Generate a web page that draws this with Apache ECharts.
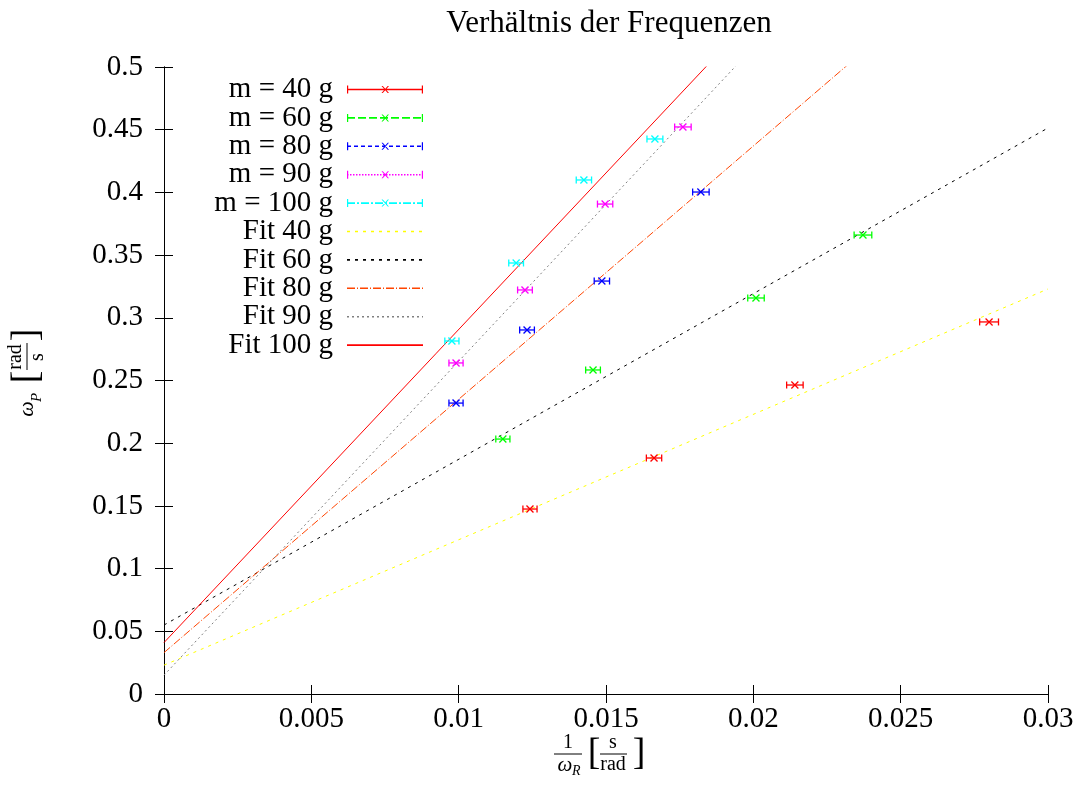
<!DOCTYPE html>
<html lang="de">
<head>
    <meta charset="UTF-8">
    <title>Verhältnis der Frequenzen</title>
    <script src="https://cdn.jsdelivr.net/npm/echarts@6/dist/echarts.min.js"></script>
    <style>
        html,body{ margin:0; padding:0; background:#fff; }
        #main{ width:1084px; height:787px; }
    </style>
</head>
<body>
<div id="main"></div>
<script>
    // Messwerte: 1/omega_R, omega_P, Fehler in x
    var x40 = [0.01242, 0.01663, 0.02141, 0.0280];
    var y40 = [0.1475, 0.1882, 0.2464, 0.2967];
    var e40 = [0.00024, 0.00026, 0.00028, 0.00032];

    var x60 = [0.0115, 0.01456, 0.02009, 0.02372];
    var y60 = [0.2033, 0.2584, 0.3158, 0.366];
    var e60 = [0.00024, 0.00025, 0.00028, 0.0003];

    var x80 = [0.00991, 0.01232, 0.01486, 0.01822];
    var y80 = [0.232, 0.2903, 0.3293, 0.4003];
    var e80 = [0.00024, 0.00025, 0.00026, 0.00028];

    var x90 = [0.00991, 0.01225, 0.01497, 0.01761];
    var y90 = [0.264, 0.3222, 0.3907, 0.4522];
    var e90 = [0.00024, 0.00025, 0.00026, 0.00028];

    var x100 = [0.00977, 0.01195, 0.01425, 0.01666];
    var y100 = [0.2815, 0.3437, 0.4099, 0.4426];
    var e100 = [0.00024, 0.00025, 0.00026, 0.00027];

    // Fitgeraden: Wert bei x = 0 und bei x = 0.03
    var fitX = [0, 0.03];
    var fit40 = [0.023, 0.323];
    var fit60 = [0.055, 0.4514];
    var fit80 = [0.033, 0.639];
    var fit90 = [0.015, 0.766];
    var fit100 = [0.041, 0.79];

    var xTicks = [0, 0.005, 0.01, 0.015, 0.02, 0.025, 0.03];
    var yTicks = [0, 0.05, 0.1, 0.15, 0.2, 0.25, 0.3, 0.35, 0.4, 0.45, 0.5];

    var FONT = '"Liberation Serif", "DejaVu Serif", serif';

    function pts(xs, ys, es){
        var out = [];
        for (var i = 0; i < xs.length; i++) out.push([xs[i], ys[i], es[i]]);
        return out;
    }
    function line(ys){
        return [[fitX[0], ys[0]], [fitX[1], ys[1]]];
    }

    // Fehlerbalken mit Kreuz
    function renderErr(params, api){
        var x = api.value(0), y = api.value(1), e = api.value(2);
        var p = api.coord([x, y]);
        var l = api.coord([x - e, y])[0];
        var r = api.coord([x + e, y])[0];
        var c = api.visual('color');
        var h = 3.5, s = 3.5;
        var st = {stroke: c, lineWidth: 1.3};
        return {type: 'group', children: [
            {type: 'line', shape: {x1: l, y1: p[1], x2: r, y2: p[1]}, style: st},
            {type: 'line', shape: {x1: l, y1: p[1] - h, x2: l, y2: p[1] + h}, style: st},
            {type: 'line', shape: {x1: r, y1: p[1] - h, x2: r, y2: p[1] + h}, style: st},
            {type: 'line', shape: {x1: p[0] - s, y1: p[1] - s, x2: p[0] + s, y2: p[1] + s}, style: st},
            {type: 'line', shape: {x1: p[0] - s, y1: p[1] + s, x2: p[0] + s, y2: p[1] - s}, style: st}
        ]};
    }

    // Legendensymbol (76 x 8): gestrichelte Linie, optional Endstriche und Kreuz
    function legendIcon(dash, marker){
        var d = 'M0,0h0.01v8h-0.01z M75.99,0h0.01v8h-0.01z';
        if (marker) {
            d = 'M0,0h1.2v8h-1.2z M74.8,0h1.2v8h-1.2z M34.5,0.5l1.3,0l6.2,7l-1.3,0z M40.7,0.5l1.3,0l-6.2,7l-1.3,0z';
        }
        var x = 0, i = 0;
        while (x < 76) {
            var len = Math.min(dash[i % dash.length], 76 - x);
            if (i % 2 === 0) d += ' M' + x + ',3.2h' + len + 'v1.6h-' + len + 'z';
            x += dash[i % dash.length];
            i++;
        }
        return 'path://' + d;
    }

    var errSeries = [
        {name: 'm = 40 g', color: '#ff0000', data: pts(x40, y40, e40), dash: [76, 0]},
        {name: 'm = 60 g', color: '#00ff00', data: pts(x60, y60, e60), dash: [8, 3]},
        {name: 'm = 80 g', color: '#0000ff', data: pts(x80, y80, e80), dash: [4, 3]},
        {name: 'm = 90 g', color: '#ff00ff', data: pts(x90, y90, e90), dash: [1.5, 1.5]},
        {name: 'm = 100 g', color: '#00ffff', data: pts(x100, y100, e100), dash: [8, 2, 2, 2]}
    ];
    var fitSeries = [
        {name: 'Fit 40 g', color: '#ffff00', data: line(fit40), dash: [3, 5]},
        {name: 'Fit 60 g', color: '#000000', data: line(fit60), dash: [3, 5]},
        {name: 'Fit 80 g', color: '#ff4500', data: line(fit80), dash: [8, 2, 1, 2]},
        {name: 'Fit 90 g', color: '#808080', data: line(fit90), dash: [2, 3]},
        {name: 'Fit 100 g', color: '#ff0000', data: line(fit100), dash: [76, 0]}
    ];

    var series = [];
    var legendData = [];
    errSeries.forEach(function(s){
        series.push({
            name: s.name, type: 'custom', renderItem: renderErr,
            itemStyle: {color: s.color},
            encode: {x: 0, y: 1},
            data: s.data, z: 3
        });
        legendData.push({name: s.name, icon: legendIcon(s.dash, true), itemStyle: {color: s.color}});
    });
    fitSeries.forEach(function(s){
        series.push({
            name: s.name, type: 'line', symbol: 'none', clip: true,
            lineStyle: {color: s.color, width: 1, type: s.dash[1] === 0 ? 'solid' : s.dash},
            itemStyle: {color: s.color},
            data: s.data, z: 2
        });
        legendData.push({name: s.name, icon: legendIcon(s.dash, false), itemStyle: {color: s.color}});
    });

    var axisCommon = {
        type: 'value',
        axisLine: {show: true, lineStyle: {color: '#000', width: 1}},
        axisTick: {show: true, inside: true, length: 9, lineStyle: {color: '#000'}},
        splitLine: {show: false}
    };
    var labelStyle = {color: '#000', fontFamily: FONT, fontSize: 29};

    var chart = echarts.init(document.getElementById('main'));
    chart.setOption({
        animation: false,
        backgroundColor: '#fff',
        title: {
            text: 'Verhältnis der Frequenzen',
            left: 604, top: 3, textAlign: 'center',
            textStyle: {fontFamily: FONT, fontSize: 31, fontWeight: 'normal', color: '#000'}
        },
        grid: {left: 164, right: 36, top: 67, bottom: 93, containLabel: false},
        legend: {
            orient: 'vertical', align: 'right',
            right: 661, top: 75, padding: 0,
            itemWidth: 76, itemHeight: 8, itemGap: -0.6,
            selectedMode: false,
            textStyle: {fontFamily: FONT, fontSize: 29, color: '#000', padding: [0, 9, 0, 0]},
            data: legendData
        },
        xAxis: [
            Object.assign({}, axisCommon, {
                position: 'bottom', min: xTicks[0], max: xTicks[xTicks.length - 1], interval: 0.005,
                axisLabel: Object.assign({margin: 11}, labelStyle)
            }),
            Object.assign({}, axisCommon, {
                position: 'top', min: xTicks[0], max: xTicks[xTicks.length - 1], interval: 0.005,
                axisLabel: {show: false}
            })
        ],
        yAxis: [
            Object.assign({}, axisCommon, {
                position: 'left', min: yTicks[0], max: yTicks[yTicks.length - 1], interval: 0.05,
                axisLabel: Object.assign({margin: 21}, labelStyle)
            }),
            Object.assign({}, axisCommon, {
                position: 'right', min: yTicks[0], max: yTicks[yTicks.length - 1], interval: 0.05,
                axisLabel: {show: false}
            })
        ],
        graphic: [
            // x-Achsenbeschriftung: 1/omega_R [s/rad]
            {
                type: 'group', x: 568, y: 754,
                children: [
                    {type: 'text', x: 0, y: -1, style: {text: '1', font: '20px ' + FONT, align: 'center', verticalAlign: 'bottom', fill: '#000'}},
                    {type: 'line', shape: {x1: -14, y1: 0, x2: 14, y2: 0}, style: {stroke: '#000', lineWidth: 1}},
                    {type: 'text', x: -3, y: 1, style: {text: 'ω', font: 'italic 21px ' + FONT, align: 'center', verticalAlign: 'top', fill: '#000'}},
                    {type: 'text', x: 4, y: 10, style: {text: 'R', font: 'italic 14px ' + FONT, align: 'left', verticalAlign: 'top', fill: '#000'}},
                    {type: 'text', x: 26, y: 0, style: {text: '[', font: '38px ' + FONT, align: 'center', verticalAlign: 'middle', fill: '#000'}},
                    {type: 'text', x: 45, y: -1, style: {text: 's', font: '20px ' + FONT, align: 'center', verticalAlign: 'bottom', fill: '#000'}},
                    {type: 'line', shape: {x1: 32, y1: 0, x2: 59, y2: 0}, style: {stroke: '#000', lineWidth: 1}},
                    {type: 'text', x: 45, y: 1, style: {text: 'rad', font: '20px ' + FONT, align: 'center', verticalAlign: 'top', fill: '#000'}},
                    {type: 'text', x: 71, y: 0, style: {text: ']', font: '38px ' + FONT, align: 'center', verticalAlign: 'middle', fill: '#000'}}
                ]
            },
            // y-Achsenbeschriftung: omega_P [rad/s]
            {
                type: 'group', x: 27, y: 375, rotation: Math.PI / 2,
                children: [
                    {type: 'text', x: -34, y: 0, style: {text: 'ω', font: 'italic 22px ' + FONT, align: 'center', verticalAlign: 'middle', fill: '#000'}},
                    {type: 'text', x: -27, y: 3, style: {text: 'P', font: 'italic 15px ' + FONT, align: 'left', verticalAlign: 'top', fill: '#000'}},
                    {type: 'text', x: -2, y: 0, style: {text: '[', font: '38px ' + FONT, align: 'center', verticalAlign: 'middle', fill: '#000'}},
                    {type: 'text', x: 18, y: -1, style: {text: 'rad', font: '20px ' + FONT, align: 'center', verticalAlign: 'bottom', fill: '#000'}},
                    {type: 'line', shape: {x1: 5, y1: 0, x2: 32, y2: 0}, style: {stroke: '#000', lineWidth: 1}},
                    {type: 'text', x: 18, y: 1, style: {text: 's', font: '20px ' + FONT, align: 'center', verticalAlign: 'top', fill: '#000'}},
                    {type: 'text', x: 40, y: 0, style: {text: ']', font: '38px ' + FONT, align: 'center', verticalAlign: 'middle', fill: '#000'}}
                ]
            }
        ],
        series: series
    });
</script>
</body>
</html>
